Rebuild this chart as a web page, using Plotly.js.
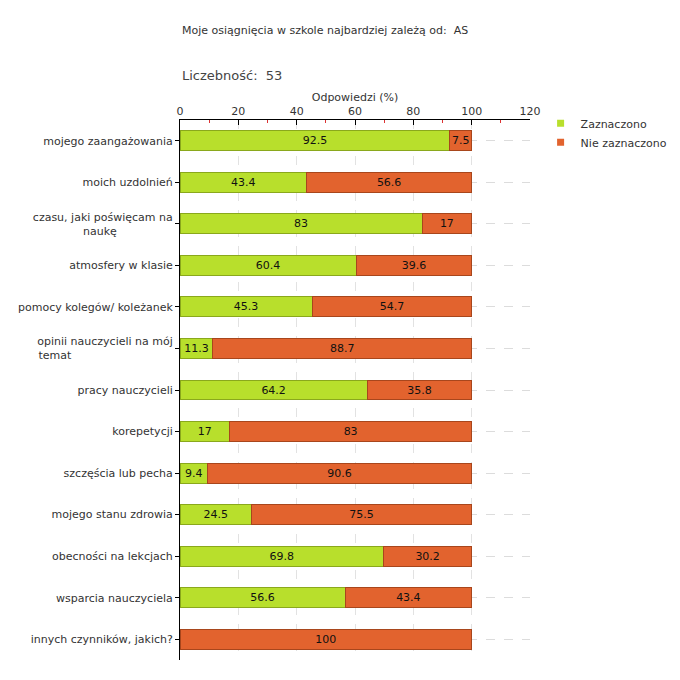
<!DOCTYPE html>
<html><head><meta charset="utf-8">
<script src="https://cdn.plot.ly/plotly-3.0.1.min.js"></script>
<style>html,body{margin:0;padding:0;background:#fff}</style>
</head><body>
<div id="chart" style="width:680px;height:680px"></div>
<script>
const categories = [
  "mojego zaangażowania",
  "moich uzdolnień",
  "czasu, jaki poświęcam na naukę",
  "atmosfery w klasie",
  "pomocy kolegów/ koleżanek",
  "opinii nauczycieli na mój temat",
  "pracy nauczycieli",
  "korepetycji",
  "szczęścia lub pecha",
  "mojego stanu zdrowia",
  "obecności na lekcjach",
  "wsparcia nauczyciela",
  "innych czynników, jakich?"
];
const categoryLabels = [
  "mojego zaangażowania",
  "moich uzdolnień",
  "czasu, jaki poświęcam na<br>naukę" + "&nbsp;".repeat(16),
  "atmosfery w klasie",
  "pomocy kolegów/ koleżanek",
  "opinii nauczycieli na mój<br>temat" + "&nbsp;".repeat(29),
  "pracy nauczycieli",
  "korepetycji",
  "szczęścia lub pecha",
  "mojego stanu zdrowia",
  "obecności na lekcjach",
  "wsparcia nauczyciela",
  "innych czynników, jakich?"
];
const zaznaczono = [92.5, 43.4, 83, 60.4, 45.3, 11.3, 64.2, 17, 9.4, 24.5, 69.8, 56.6, 0];
const nieZaznaczono = [7.5, 56.6, 17, 39.6, 54.7, 88.7, 35.8, 83, 90.6, 75.5, 30.2, 43.4, 100];
const seriesNames = ["Zaznaczono", "Nie zaznaczono"];
const seriesColors = ["#b8df2c", "#e2632e"];
const xTicks = [0, 20, 40, 60, 80, 100, 120];
const titleText = "Moje osiągnięcia w szkole najbardziej zależą od:&nbsp;&nbsp;AS";
const countText = "Liczebność:&nbsp; 53";

const font = "DejaVu Sans, Verdana, sans-serif";
function lbl(arr){ return arr.map(v => v === 0 ? "" : String(v)); }

const traces = [
  {type:"bar", orientation:"h", name:seriesNames[0], y:categories, x:zaznaczono, showlegend:false,
   text:lbl(zaznaczono), textposition:"inside", insidetextanchor:"middle", textangle:0,
   textfont:{family:font,size:11,color:"#111"},
   marker:{color:seriesColors[0], line:{color:"#8aa81c", width:1}}, width:0.48, hoverinfo:"x"},
  {type:"bar", orientation:"h", name:seriesNames[1], y:categories, x:nieZaznaczono, showlegend:false,
   text:lbl(nieZaznaczono), textposition:"inside", insidetextanchor:"middle", textangle:0,
   textfont:{family:font,size:11,color:"#111"},
   marker:{color:seriesColors[1], line:{color:"#a8461c", width:1}}, width:0.48, hoverinfo:"x"},
  {type:"scatter", mode:"markers", name:seriesNames[0], x:[null], y:[null],
   marker:{symbol:"square", size:7, color:seriesColors[0]}},
  {type:"scatter", mode:"markers", name:seriesNames[1], x:[null], y:[null],
   marker:{symbol:"square", size:7, color:seriesColors[1]}}
];

const layout = {
  width:680, height:680,
  margin:{l:180, r:150, t:120, b:20, autoexpand:false},
  paper_bgcolor:"#fff", plot_bgcolor:"#fff",
  barmode:"stack",
  font:{family:font, size:11, color:"#333"},
  uniformtext:{mode:"show", minsize:11},
  showlegend:true,
  legend:{xref:"container", yref:"container", x:0.795, y:0.84, xanchor:"left", yanchor:"top",
          traceorder:"normal", font:{family:font,size:11,color:"#333"},
          itemwidth:30, tracegroupgap:0, bgcolor:"rgba(0,0,0,0)"},
  xaxis:{side:"top", range:[0,120], tickvals:xTicks, ticktext:xTicks.map(String),
         showgrid:true, gridcolor:"#e2e2e2", griddash:"dash", gridwidth:1,
         showline:true, linecolor:"#000", linewidth:1, ticks:"inside", ticklen:5, tickcolor:"#000",
         minor:{dtick:10, tick0:10, ticks:"inside", ticklen:3, tickcolor:"#d33", showgrid:false},
         zeroline:false, tickfont:{family:font,size:11,color:"#333"},
         title:{text:"Odpowiedzi (%)", font:{family:font,size:11,color:"#333"}, standoff:0},
         fixedrange:true},
  yaxis:{type:"category", autorange:"reversed", showline:true, linecolor:"#000", linewidth:1,
         tickvals:categories, ticktext:categoryLabels,
         ticks:"outside", ticklen:4, tickcolor:"#000",
         showgrid:true, gridcolor:"#dcdcdc", griddash:"dash",
         tickfont:{family:font,size:11,color:"#333"}, fixedrange:true},
  annotations:[
    {xref:"paper", yref:"paper", x:0, y:1, xanchor:"left", yanchor:"middle",
     yshift:90, text:titleText, showarrow:false, font:{family:font,size:11,color:"#333"}},
    {xref:"paper", yref:"paper", x:0, y:1, xanchor:"left", yanchor:"middle",
     yshift:45, text:countText, showarrow:false, font:{family:font,size:13,color:"#444"}}
  ]
};
Plotly.newPlot("chart", traces, layout, {displayModeBar:false, staticPlot:true});
</script>
</body></html>
